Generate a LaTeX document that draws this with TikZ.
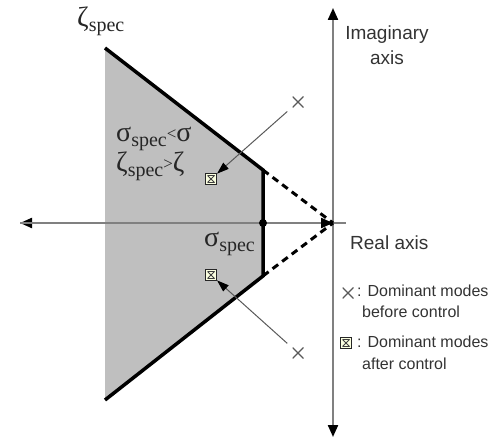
\documentclass[tikz,border=0pt]{standalone}
\usepackage{fontspec}
\setmainfont{Liberation Serif}
\newfontfamily\arialfam{Liberation Sans}
\usetikzlibrary{arrows.meta}
\newcommand\spc{\raisebox{-5pt}{\fontsize{20}{20}\selectfont spec}}
\newcommand\relsym[1]{\raisebox{2pt}{\fontsize{17}{17}\selectfont #1}}
\tikzset{
  axisline/.style={draw=black!50, line width=2.2pt},
  axtip/.style={-{Triangle[length=12pt,width=10pt,fill=black,color=black]}},
  bound/.style={draw=black, line width=3.5pt, line join=miter},
  dashbound/.style={draw=black, line width=3pt, dash pattern=on 7pt off 5pt},
  pointer/.style={draw=black!65, line width=1pt, -{Triangle[length=12pt,width=8pt,fill=black,color=black]}, shorten <=7pt},
  xmk/.style={minimum size=11pt, inner sep=0pt, outer sep=0pt,
    path picture={\draw[black!65, line width=1.3pt]
      (path picture bounding box.north west) -- (path picture bounding box.south east)
      (path picture bounding box.north east) -- (path picture bounding box.south west);}},
  sqmk/.style={draw=black!85, fill=green!12!yellow!12!white, line width=1pt, minimum size=11pt, inner sep=0pt,
    path picture={\draw[black!75, line width=0.8pt]
      ([shift={(2pt,-2pt)}]path picture bounding box.north west) -- ([shift={(-2pt,2pt)}]path picture bounding box.south east)
      ([shift={(-2pt,-2pt)}]path picture bounding box.north east) -- ([shift={(2pt,2pt)}]path picture bounding box.south west)
      ([shift={(2pt,-2pt)}]path picture bounding box.north west) -- ([shift={(-2pt,-2pt)}]path picture bounding box.north east)
      ([shift={(2pt,2pt)}]path picture bounding box.south west) -- ([shift={(-2pt,2pt)}]path picture bounding box.south east);}},
  greek/.style={anchor=base west, inner sep=0pt, font=\fontsize{28}{28}\selectfont, text=black!85},
  sanslab/.style={font=\arialfam\fontsize{19}{25}\selectfont, text=black!80, inner sep=0pt},
  legtext/.style={anchor=base west, inner sep=0pt, font=\arialfam\fontsize{16}{16}\selectfont, text=black!80}
}
\begin{document}
\begin{tikzpicture}[x=1pt,y=-1pt]
\useasboundingbox (0,0) rectangle (490,438);
% key points
\coordinate (TL) at (105,48);
\coordinate (UR) at (263,170);
\coordinate (LR) at (263,276);
\coordinate (BL) at (105,400);
\coordinate (O) at (333,223);
\coordinate (SP) at (263,223);
\coordinate (RL) at (20,223);
\coordinate (RR) at (346,223);
\coordinate (IT) at (333,8);
\coordinate (IB) at (333,437);
% shaded region
\fill[black!25] (TL) -- (UR) -- (LR) -- (BL) -- cycle;
% axes
\draw[axisline, axtip] (O) -- (RL);
\draw[axisline, axtip] (RL) -- (O);
\draw[axisline] (O) -- (RR);
\draw[axisline, axtip] (O) -- (IT);
\draw[axisline, axtip] (O) -- (IB);
% boundary
\draw[bound] (TL) -- (UR) -- (LR) -- (BL);
\draw[dashbound] (UR) -- (O);
\draw[dashbound] (LR) -- (O);
\fill[black] (SP) circle (4pt);
% markers
\node[xmk] (x1) at (298,102) {};
\node[xmk] (x2) at (298,353) {};
\node[sqmk] (s1) at (211,179) {};
\node[sqmk] (s2) at (211,275) {};
\draw[pointer] (x1) -- (s1);
\draw[pointer] (x2) -- (s2);
% greek labels
\node[greek] (zs) at (77,27) {ζ\spc};
\node[greek] (r1) at (116,142) {σ\spc\relsym{<}σ};
\node[greek] (r2) at (116,172) {ζ\spc\relsym{>}ζ};
\node[greek] (ss) at (204,247) {σ\spc};
% axis labels
\node[sanslab, align=center] (im) at (387,45) {Imaginary\\axis};
\node[sanslab, anchor=base west] (re) at (350,250) {Real axis};
% legend
\node[xmk] (lx) at (348,293) {};
\node[sqmk] (ls) at (346,343) {};
\node[legtext] (l1) at (357,297) {: Dominant modes};
\node[legtext] (l2) at (362,318) {before control};
\node[legtext] (l3) at (357,348) {: Dominant modes};
\node[legtext] (l4) at (362,369) {after control};
\end{tikzpicture}
\end{document}
